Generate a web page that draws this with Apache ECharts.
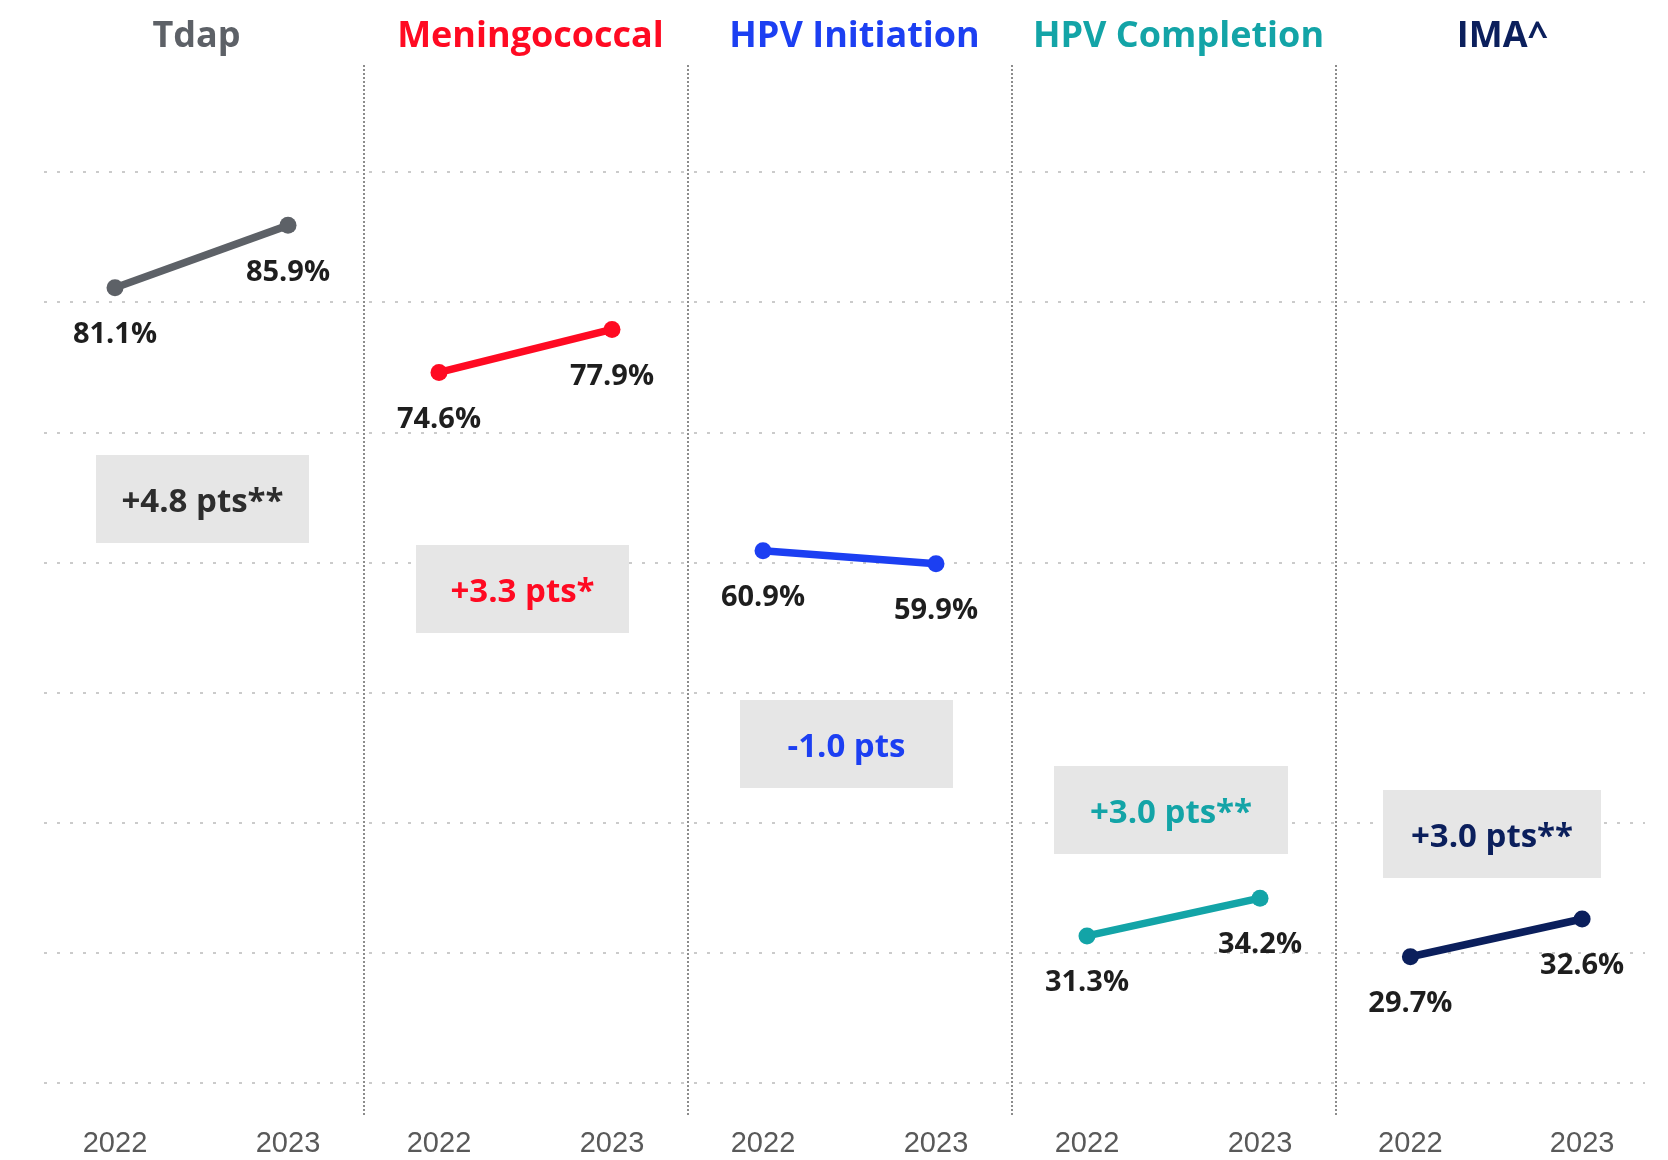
<!DOCTYPE html>
<html>
<head>
<meta charset="utf-8">
<title>Vaccination coverage 2022 vs 2023</title>
<script src="https://cdn.jsdelivr.net/npm/echarts@6/dist/echarts.min.js"></script>
<style>
html, body { margin: 0; padding: 0; background: #fff; }
#chart { width: 1668px; height: 1160px; }
</style>
</head>
<body>
<div id="chart"></div>
<script>
// data
var years = ['2022', '2023'];
var vaccines = ['Tdap', 'Meningococcal', 'HPV Initiation', 'HPV Completion', 'IMA^'];
var tdap = [81.1, 85.9];
var mening = [74.6, 77.9];
var hpvInit = [60.9, 59.9];
var hpvComp = [31.3, 34.2];
var ima = [29.7, 32.6];
var changeLabels = ['+4.8 pts**', '+3.3 pts*', '-1.0 pts', '+3.0 pts**', '+3.0 pts**'];

var seriesData = [tdap, mening, hpvInit, hpvComp, ima];
var colors = ['#5d6167', '#ff0a22', '#1c3ff2', '#13a4a7', '#0b1f5c'];
var boxTextColors = ['#2d2d2d', '#ff0a22', '#1c3ff2', '#13a4a7', '#0b1f5c'];
// change boxes (layout only)
var boxes = [
  {x: 96, y: 455, w: 213},
  {x: 416, y: 545, w: 213},
  {x: 740, y: 700, w: 213},
  {x: 1054, y: 766, w: 234},
  {x: 1383, y: 790, w: 218}
];

var chart = echarts.init(document.getElementById('chart'));
var panelW = 324, panelLeft = 39.5;
var font = '"Open Sans", "Noto Sans", sans-serif';

var grids = [
  {left: panelLeft, top: 65, width: panelW * 5, height: 1052},   // panel separators
  {left: 44, top: 172, width: 1601, height: 911}                 // dotted gridlines
];
var xAxes = [
  {
    gridIndex: 0, type: 'value', min: 0, max: 5, interval: 1,
    axisLine: {show: false}, axisTick: {show: false}, axisLabel: {show: false},
    splitLine: {show: true, showMinLine: false, showMaxLine: false,
      lineStyle: {color: '#8c8c8c', width: 2, type: [2, 2]}}
  },
  {gridIndex: 1, type: 'value', show: false}
];
var yAxes = [
  {gridIndex: 0, type: 'value', show: false},
  {
    gridIndex: 1, type: 'value', min: 20, max: 90, interval: 10,
    axisLine: {show: false}, axisTick: {show: false}, axisLabel: {show: false},
    splitLine: {show: true, lineStyle: {color: '#cbcbcb', width: 2, type: [3, 10]}}
  }
];
var series = [];
var titles = [];
var graphics = [];

for (var i = 0; i < 5; i++) {
  var center = panelLeft + panelW * (i + 0.5);
  grids.push({left: center - 173, top: 172, width: 346, height: 911});
  xAxes.push({
    gridIndex: i + 2, type: 'category', data: years, boundaryGap: true,
    axisLine: {show: false}, axisTick: {show: false},
    axisLabel: {margin: 46, fontSize: 29, color: '#595959', fontFamily: '"Liberation Sans", sans-serif'}
  });
  yAxes.push({gridIndex: i + 2, type: 'value', min: 20, max: 90, show: false});
  series.push({
    name: vaccines[i],
    type: 'line',
    xAxisIndex: i + 2,
    yAxisIndex: i + 2,
    data: seriesData[i],
    symbol: 'circle',
    symbolSize: 17,
    z: 5,
    lineStyle: {width: 7.5, color: colors[i]},
    itemStyle: {color: colors[i]},
    label: {
      show: true, position: 'bottom', distance: 24,
      formatter: function (p) { return p.value.toFixed(1) + '%'; },
      fontSize: 29, fontWeight: 'bold', color: '#1e1e1e', fontFamily: font
    }
  });
  titles.push({
    text: vaccines[i], left: i === 0 ? center - 10 : center, top: 14, textAlign: 'center',
    textStyle: {fontSize: 36, fontWeight: 'bold', color: colors[i], fontFamily: font}
  });
  var b = boxes[i];
  graphics.push({
    type: 'group',
    z: 10,
    children: [
      {
        type: 'rect', z: 10,
        shape: {x: b.x, y: b.y, width: b.w, height: 88},
        style: {fill: '#e6e6e6'}
      },
      {
        type: 'text', z: 11,
        x: b.x + b.w / 2, y: b.y + 48,
        style: {
          text: changeLabels[i], fill: boxTextColors[i],
          fontSize: 33, fontWeight: 'bold', fontFamily: font,
          align: 'center', verticalAlign: 'middle'
        }
      }
    ]
  });
}

chart.setOption({
  animation: false,
  backgroundColor: '#ffffff',
  title: titles,
  grid: grids,
  xAxis: xAxes,
  yAxis: yAxes,
  series: series,
  graphic: graphics
});
</script>
</body>
</html>
